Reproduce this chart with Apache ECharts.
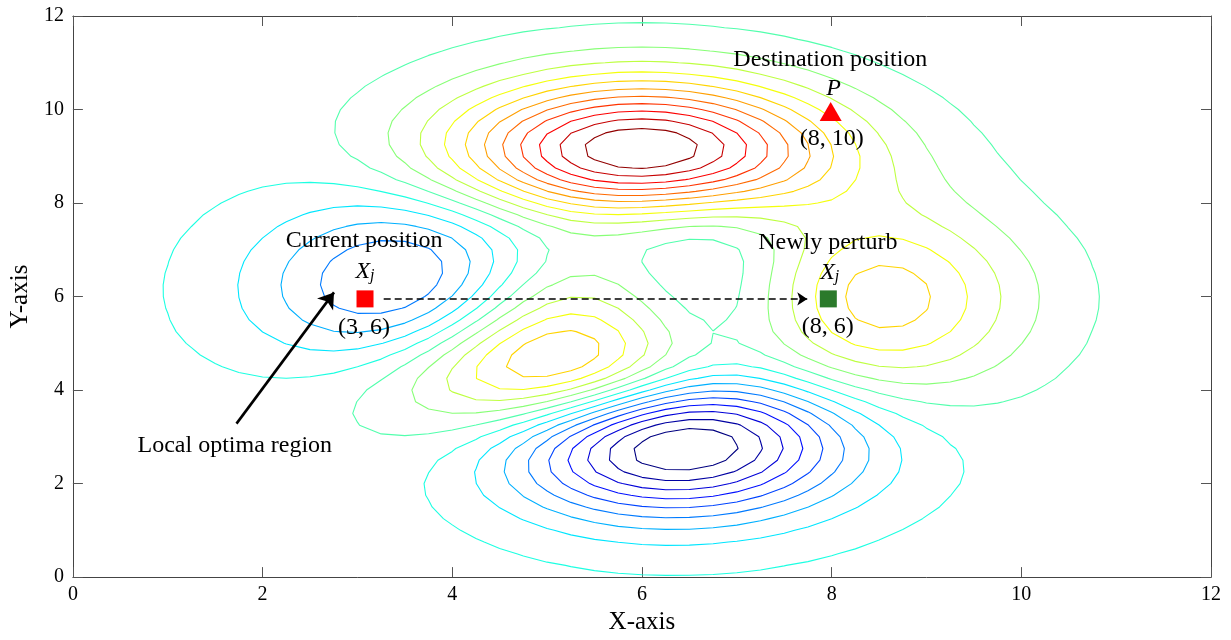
<!DOCTYPE html>
<html><head><meta charset="utf-8">
<script src="https://cdn.jsdelivr.net/npm/echarts@6/dist/echarts.min.js"></script>
<style>html,body{margin:0;padding:0;background:#fff}#c{width:1231px;height:640px}</style>
</head><body><div id="c"></div>
<script>
// ---------- data ----------
const xTicks = [0, 2, 4, 6, 8, 10, 12];
const yTicks = [0, 2, 4, 6, 8, 10, 12];
// Surface shown: MATLAB "peaks" surface sampled on a 49 x 49 grid over [-3,3]^2, drawn on the 0..12 axes
const gridCount = 49;
const axisRange = [0, 12];
const peaksRange = [-3, 3];
// 20 contour levels between the surface minimum and maximum
const contourLevels = [-5.850, -5.154, -4.458, -3.761, -3.065, -2.369, -1.672, -0.976, -0.280, 0.417,
                        1.113, 1.809, 2.505, 3.202, 3.898, 4.594, 5.290, 5.987, 6.683, 7.379];
const colorLimits = [-5.6, 7.6];
// marked positions
const currentPos = [3.08, 5.95];
const perturbPos = [7.965, 5.95];
const destPos = [7.99, 9.96];
const currentLabel = '(3, 6)';
const perturbLabel = '(8, 6)';
const destLabel = '(8, 10)';

// ---------- surface + contouring ----------
function peaks(x, y) {
  const sq = v => v * v;
  return 3 * sq(1 - x) * Math.exp(-sq(x) - sq(y + 1))
    - 10 * (x / 5 - Math.pow(x, 3) - Math.pow(y, 5)) * Math.exp(-sq(x) - sq(y))
    - (1 / 3) * Math.exp(-sq(x + 1) - sq(y));
}
const gx = [], gy = [];
for (let i = 0; i < gridCount; i++) {
  gx.push(axisRange[0] + (axisRange[1] - axisRange[0]) * i / (gridCount - 1));
  gy.push(axisRange[0] + (axisRange[1] - axisRange[0]) * i / (gridCount - 1));
}
const Z = [];
for (let j = 0; j < gridCount; j++) {
  const row = [];
  const yp = peaksRange[0] + (peaksRange[1] - peaksRange[0]) * j / (gridCount - 1);
  for (let i = 0; i < gridCount; i++) {
    const xp = peaksRange[0] + (peaksRange[1] - peaksRange[0]) * i / (gridCount - 1);
    row.push(peaks(xp, yp));
  }
  Z.push(row);
}

function contourLines(L) {
  const pts = {}, adj = {};
  const n = gx.length, m = gy.length;
  function ep(id, x1, y1, z1, x2, y2, z2) {
    if (!(id in pts)) { const t = (L - z1) / (z2 - z1); pts[id] = [x1 + t * (x2 - x1), y1 + t * (y2 - y1)]; }
    return id;
  }
  function link(a, b) { (adj[a] = adj[a] || []).push(b); (adj[b] = adj[b] || []).push(a); }
  for (let j = 0; j < m - 1; j++) {
    for (let i = 0; i < n - 1; i++) {
      const z00 = Z[j][i], z10 = Z[j][i + 1], z01 = Z[j + 1][i], z11 = Z[j + 1][i + 1];
      const b00 = z00 >= L, b10 = z10 >= L, b01 = z01 >= L, b11 = z11 >= L;
      const x0 = gx[i], x1 = gx[i + 1], y0 = gy[j], y1 = gy[j + 1];
      let B = null, R = null, T = null, Lf = null;
      if (b00 !== b10) B = ep('h' + i + '_' + j, x0, y0, z00, x1, y0, z10);
      if (b10 !== b11) R = ep('v' + (i + 1) + '_' + j, x1, y0, z10, x1, y1, z11);
      if (b01 !== b11) T = ep('h' + i + '_' + (j + 1), x0, y1, z01, x1, y1, z11);
      if (b00 !== b01) Lf = ep('v' + i + '_' + j, x0, y0, z00, x0, y1, z01);
      const E = [B, R, T, Lf].filter(e => e !== null);
      if (E.length === 2) link(E[0], E[1]);
      else if (E.length === 4) {
        const c = (z00 + z10 + z01 + z11) / 4;
        if ((c >= L) === b00) { link(B, R); link(T, Lf); }
        else { link(B, Lf); link(R, T); }
      }
    }
  }
  const visited = new Set();
  const data = [];
  function walk(start) {
    const path = [start]; visited.add(start);
    let cur = start;
    while (true) {
      const nx = (adj[cur] || []).find(k => !visited.has(k));
      if (nx === undefined) break;
      visited.add(nx); path.push(nx); cur = nx;
    }
    if (path.length > 2 && (adj[cur] || []).includes(start)) path.push(start);
    path.forEach(k => data.push(pts[k]));
    data.push(['-', '-']);
  }
  Object.keys(adj).forEach(k => { if (adj[k].length === 1 && !visited.has(k)) walk(k); });
  Object.keys(adj).forEach(k => { if (!visited.has(k)) walk(k); });
  return data;
}

function jet(v) {
  let t = (v - colorLimits[0]) / (colorLimits[1] - colorLimits[0]);
  t = Math.max(0, Math.min(1, t));
  const c = a => Math.max(0, Math.min(1, 1.5 - Math.abs(4 * t - a)));
  return 'rgb(' + Math.round(255 * c(3)) + ',' + Math.round(255 * c(2)) + ',' + Math.round(255 * c(1)) + ')';
}

// ---------- chart ----------
const FONT = "'Liberation Serif', 'Times New Roman', serif";
const chart = echarts.init(document.getElementById('c'), null, { renderer: 'canvas' });

const contourSeries = contourLevels.map(L => ({
  type: 'line', data: contourLines(L), showSymbol: false, symbol: 'none',
  connectNulls: false, silent: true, animation: false, z: 2,
  lineStyle: { color: jet(L), width: 1.1, opacity: 1 }
}));

const textStyle = { fontFamily: FONT, fontSize: 24, color: '#000', opacity: 1 };
const rich = {
  i: { fontFamily: FONT, fontSize: 24, fontStyle: 'italic', color: '#000', lineHeight: 24 },
  s: { fontFamily: FONT, fontSize: 16, fontStyle: 'italic', color: '#000', lineHeight: 16, verticalAlign: 'bottom' }
};
const annotations = [
  { text: 'Destination position', at: [7.986, 11.06] },
  { text: '{i|P}', at: [8.02, 10.44] },
  { text: destLabel, at: [8.00, 9.38] },
  { text: 'Current position', at: [3.07, 7.20] },
  { text: '{i|X}{s|j}', at: [3.08, 6.54] },
  { text: currentLabel, at: [3.07, 5.33] },
  { text: 'Newly perturb', at: [7.96, 7.16] },
  { text: '{i|X}{s|j}', at: [7.98, 6.50] },
  { text: perturbLabel, at: [7.96, 5.36] },
  { text: 'Local optima region', at: [1.707, 2.813] }
];

const axisCommon = {
  type: 'value', min: 0, max: 12, interval: 2,
  axisLine: { show: true, onZero: false, lineStyle: { color: '#444', width: 1 } },
  axisTick: { show: true, inside: true, length: 10, lineStyle: { color: '#555', width: 1 } },
  splitLine: { show: false }
};

chart.setOption({
  backgroundColor: '#fff',
  animation: false,
  grid: { left: 72, right: 20, top: 16, bottom: 61, containLabel: false },
  xAxis: [
    Object.assign({}, axisCommon, {
      position: 'bottom',
      axisLabel: { fontFamily: FONT, fontSize: 20, color: '#000', margin: 8,
        formatter: v => xTicks.includes(v) ? String(v) : '' },
      name: 'X-axis', nameLocation: 'middle', nameGap: 30,
      nameTextStyle: { fontFamily: FONT, fontSize: 25, color: '#000' }
    }),
    Object.assign({}, axisCommon, { position: 'top', axisLabel: { show: false } })
  ],
  yAxis: [
    Object.assign({}, axisCommon, {
      position: 'left',
      axisLabel: { fontFamily: FONT, fontSize: 20, color: '#000', margin: 9,
        formatter: v => yTicks.includes(v) ? String(v) : '' },
      name: 'Y-axis', nameLocation: 'middle', nameGap: 35,
      nameTextStyle: { fontFamily: FONT, fontSize: 25, color: '#000' }
    }),
    Object.assign({}, axisCommon, { position: 'right', axisLabel: { show: false } })
  ],
  series: contourSeries.concat([
    {
      type: 'lines', coordinateSystem: 'cartesian2d', silent: true, z: 8,
      symbol: ['none', 'arrow'], symbolSize: 15,
      lineStyle: { color: '#000', width: 2.6, opacity: 1, curveness: 0 },
      data: [{ coords: [[1.725, 3.282], [2.753, 6.089]] }]
    },
    {
      type: 'lines', coordinateSystem: 'cartesian2d', silent: true, z: 8,
      symbol: ['none', 'arrow'], symbolSize: 10,
      lineStyle: { color: '#000', width: 1.5, opacity: 1, type: [7, 4], curveness: 0 },
      data: [{ coords: [[3.277, currentPos[1]], [7.743, perturbPos[1]]] }]
    },
    {
      type: 'scatter', silent: true, z: 10,
      itemStyle: { opacity: 1 },
      data: [
        { value: currentPos, symbol: 'rect', symbolSize: 17, itemStyle: { color: '#ff0000', opacity: 1 } },
        { value: perturbPos, symbol: 'rect', symbolSize: 17, itemStyle: { color: '#2b7a2b', opacity: 1 } },
        { value: destPos, symbol: 'triangle', symbolSize: [22, 19], itemStyle: { color: '#ff0000', opacity: 1 } }
      ]
    },
    {
      type: 'scatter', silent: true, z: 11, symbolSize: 1,
      itemStyle: { color: 'rgba(255,255,255,0)', opacity: 1 },
      data: annotations.map(a => ({
        value: a.at,
        label: Object.assign({ show: true, position: 'inside', formatter: a.text, rich: rich }, textStyle)
      }))
    }
  ])
});
</script>
</body></html>
